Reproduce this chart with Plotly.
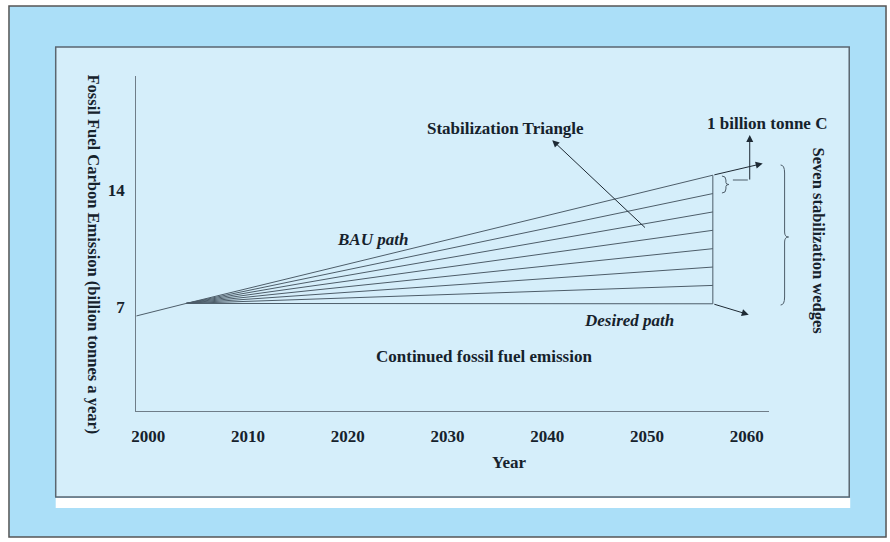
import plotly.graph_objects as go

# ---- data ----
x_ticks = [2000, 2010, 2020, 2030, 2040, 2050, 2060]
x_tick_labels = ["2000", "2010", "2020", "2030", "2040", "2050", "2060"]
y_ticks = [7, 14]
y_tick_labels = ["7", "14"]

start_year = 1998.8
start_value = 6.47
fan_origin_year = 2003.8
fan_origin_value = 7.22
end_year = 2056.6
end_values = [14.9, 13.8, 12.7, 11.6, 10.5, 9.4, 8.3, 7.2]   # BAU ... desired
bau_arrow_year, bau_arrow_value = 2061.6, 15.6
desired_arrow_year, desired_arrow_value = 2060.2, 6.55

W, H = 890, 542
def px(x):
    return x / W
def py(y):
    return 1 - y / H

LINE = "#4d5d69"
TEXT = "#16222c"
FONT = "Liberation Serif"
HSIZE = 17
VSIZE = 16.5

fig = go.Figure()

# initial segment + fan of wedge lines
fig.add_trace(go.Scatter(x=[start_year, fan_origin_year], y=[start_value, fan_origin_value],
                         mode="lines", line=dict(color=LINE, width=1), hoverinfo="skip", showlegend=False))
for v in end_values:
    fig.add_trace(go.Scatter(x=[fan_origin_year, end_year], y=[fan_origin_value, v],
                             mode="lines", line=dict(color=LINE, width=1), hoverinfo="skip", showlegend=False))
# vertical closing line
fig.add_trace(go.Scatter(x=[end_year, end_year], y=[end_values[0], end_values[-1]],
                         mode="lines", line=dict(color=LINE, width=1), hoverinfo="skip", showlegend=False))

shapes = []
# outer frame
shapes.append(dict(type="rect", xref="paper", yref="paper", x0=px(4), x1=px(886), y0=py(537), y1=py(6),
                   fillcolor="#abdff8", line=dict(color="#555555", width=1.5), layer="below"))
# inner panel
shapes.append(dict(type="rect", xref="paper", yref="paper", x0=px(51), x1=px(849), y0=py(497), y1=py(47),
                   fillcolor="#d5eefa", line=dict(color="#5a6670", width=1.5), layer="below"))
# white strip under panel
shapes.append(dict(type="rect", xref="paper", yref="paper", x0=px(51), x1=px(850), y0=py(508), y1=py(498),
                   fillcolor="#ffffff", line=dict(width=0), layer="below"))
# small brace between top two lines
sb_x, sb_y0, sb_y1 = 721, 176, 193
sm = (sb_y0 + sb_y1) / 2
shapes.append(dict(type="path", xref="paper", yref="paper",
                   path=(f"M {px(sb_x)},{py(sb_y0)} Q {px(sb_x+4)},{py(sb_y0)} {px(sb_x+4)},{py(sb_y0+4)} "
                         f"L {px(sb_x+4)},{py(sm-2)} Q {px(sb_x+4)},{py(sm)} {px(sb_x+7)},{py(sm)} "
                         f"Q {px(sb_x+4)},{py(sm)} {px(sb_x+4)},{py(sm+2)} "
                         f"L {px(sb_x+4)},{py(sb_y1-4)} Q {px(sb_x+4)},{py(sb_y1)} {px(sb_x)},{py(sb_y1)}"),
                   line=dict(color=LINE, width=1)))
# connector from small brace to the upward arrow
shapes.append(dict(type="line", xref="paper", yref="paper", x0=px(732), x1=px(747), y0=py(180), y1=py(180),
                   line=dict(color=LINE, width=1)))
# big brace
bb_x, bb_y0, bb_y1 = 780, 165, 305
bm = 237
shapes.append(dict(type="path", xref="paper", yref="paper",
                   path=(f"M {px(bb_x)},{py(bb_y0)} Q {px(bb_x+4)},{py(bb_y0)} {px(bb_x+4)},{py(bb_y0+8)} "
                         f"L {px(bb_x+4)},{py(bm-5)} Q {px(bb_x+4)},{py(bm)} {px(bb_x+8)},{py(bm)} "
                         f"Q {px(bb_x+4)},{py(bm)} {px(bb_x+4)},{py(bm+5)} "
                         f"L {px(bb_x+4)},{py(bb_y1-8)} Q {px(bb_x+4)},{py(bb_y1)} {px(bb_x)},{py(bb_y1)}"),
                   line=dict(color=LINE, width=1)))

annotations = []
def arrow(xh, yh, xt, yt):
    annotations.append(dict(x=xh, y=yh, ax=xt, ay=yt, xref="x", yref="y", axref="x", ayref="y",
                            text="", showarrow=True, arrowhead=2, arrowsize=1.4, arrowwidth=1,
                            arrowcolor="#1e2a34"))
# BAU continuation arrow
arrow(bau_arrow_year, bau_arrow_value, end_year, end_values[0])
# desired path arrow
arrow(desired_arrow_year, desired_arrow_value, end_year, end_values[-1])
# stabilization triangle arrow
arrow(2040.5, 17.0, 2049.95, 11.68)
# 1 billion tonne C arrow
arrow(2060.3, 17.3, 2060.3, 14.55)

def label(text, x, y, size=HSIZE, italic=False, angle=0):
    t = f"<b><i>{text}</i></b>" if italic else f"<b>{text}</b>"
    annotations.append(dict(x=px(x), y=py(y), xref="paper", yref="paper", text=t, showarrow=False,
                            textangle=angle, font=dict(family=FONT, size=size, color=TEXT),
                            xanchor="center", yanchor="middle"))

label("Stabilization Triangle", 503, 128)
label("1 billion tonne C", 766, 123)
label("BAU path", 370, 239, italic=True)
label("Desired path", 628, 320, italic=True)
label("Continued fossil fuel emission", 482, 356)
label("Year", 507, 462)
label("Fossil Fuel Carbon Emission (billion tonnes a year)", 89, 254, size=VSIZE, angle=90)
label("Seven stabilization wedges", 818, 241, size=VSIZE, angle=90)

fig.update_layout(
    width=W, height=H,
    margin=dict(l=0, r=0, t=0, b=0),
    paper_bgcolor="#ffffff",
    plot_bgcolor="rgba(0,0,0,0)",
    showlegend=False,
    shapes=shapes,
    annotations=annotations,
    xaxis=dict(domain=[px(132), px(768)], range=[1998.8, 2062.2],
               tickvals=x_ticks, ticktext=[f"<b>{t}</b>" for t in x_tick_labels],
               showgrid=False, zeroline=False, showline=True, linecolor="#6f7d88", linewidth=1,
               ticks="outside", ticklen=10, tickcolor="rgba(0,0,0,0)",
               tickfont=dict(family=FONT, size=HSIZE, color=TEXT), fixedrange=True),
    yaxis=dict(domain=[py(411), py(76)], range=[0.78, 20.84],
               tickvals=y_ticks, ticktext=[f"<b>{t}</b>" for t in y_tick_labels],
               showgrid=False, zeroline=False, showline=True, linecolor="#6f7d88", linewidth=1,
               ticks="outside", ticklen=7, tickcolor="rgba(0,0,0,0)",
               tickfont=dict(family=FONT, size=HSIZE, color=TEXT), fixedrange=True),
)

fig.write_html("out.html", config={"displayModeBar": False},
               post_script="document.body.style.margin='0';document.body.style.overflow='hidden';")
